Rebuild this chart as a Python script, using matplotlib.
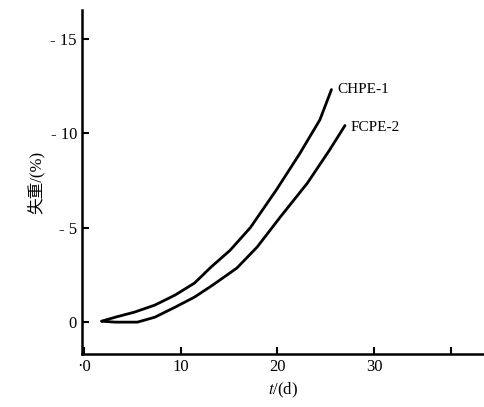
import numpy as np
import matplotlib
matplotlib.use("Agg")
import matplotlib.pyplot as plt

plt.rcParams['font.family'] = ['Liberation Serif', 'Noto Sans CJK SC']
plt.rcParams['mathtext.fontset'] = 'stix'

# dados
t_chpe = [1.8, 3.2, 5.2, 7.3, 9.4, 11.4, 13.1, 15.1, 17.2, 19.9, 22.3, 24.4, 25.6]
w_chpe = [0.05, 0.26, 0.53, 0.90, 1.43, 2.06, 2.9, 3.8, 5.0, 7.0, 8.9, 10.7, 12.3]
t_fcpe = [1.8, 3.2, 5.5, 7.3, 9.4, 11.4, 13.3, 15.8, 17.9, 20.3, 23.1, 25.4, 27.0]
w_fcpe = [0.05, 0.0, 0.0, 0.26, 0.79, 1.32, 1.96, 2.86, 3.97, 5.56, 7.35, 9.1, 10.4]

xticks = [0, 10, 20, 30, 38]
xticklabels = ['·0', '10', '20', '30', '']
yticks = [0, 5, 10, 15]
yticklabels = ['0', '- 5', '- 10', '- 15']

fig = plt.figure(figsize=(4.84, 4.07), dpi=100)
ax = fig.add_axes([0.169, 0.130, 0.831, 0.845])

ax.plot(t_chpe, w_chpe, color='black', lw=2.0, solid_capstyle='round', solid_joinstyle='round')
ax.plot(t_fcpe, w_fcpe, color='black', lw=2.0, solid_capstyle='round', solid_joinstyle='round')

ax.text(26.2, 12.3, 'CHPE-1', fontsize=11, va='center', ha='left')
ax.text(27.6, 10.3, 'FCPE-2', fontsize=11, va='center', ha='left')

ax.set_xlim(-0.26, 41.4)
ax.set_ylim(-1.69, 16.5)
ax.set_xticks(xticks)
ax.set_xticklabels(xticklabels)
ax.set_yticks(yticks)
ax.set_yticklabels(yticklabels)
ax.tick_params(direction='in', length=5, width=1.5, labelsize=12)

for s in ['top', 'right']:
    ax.spines[s].set_visible(False)
for s in ['left', 'bottom']:
    ax.spines[s].set_linewidth(1.8)

ax.set_xlabel('$t$/(d)', fontsize=12, labelpad=4)
ax.set_ylabel('失重/(%)', fontsize=12, labelpad=4)

fig.savefig('out.png', dpi=100)
